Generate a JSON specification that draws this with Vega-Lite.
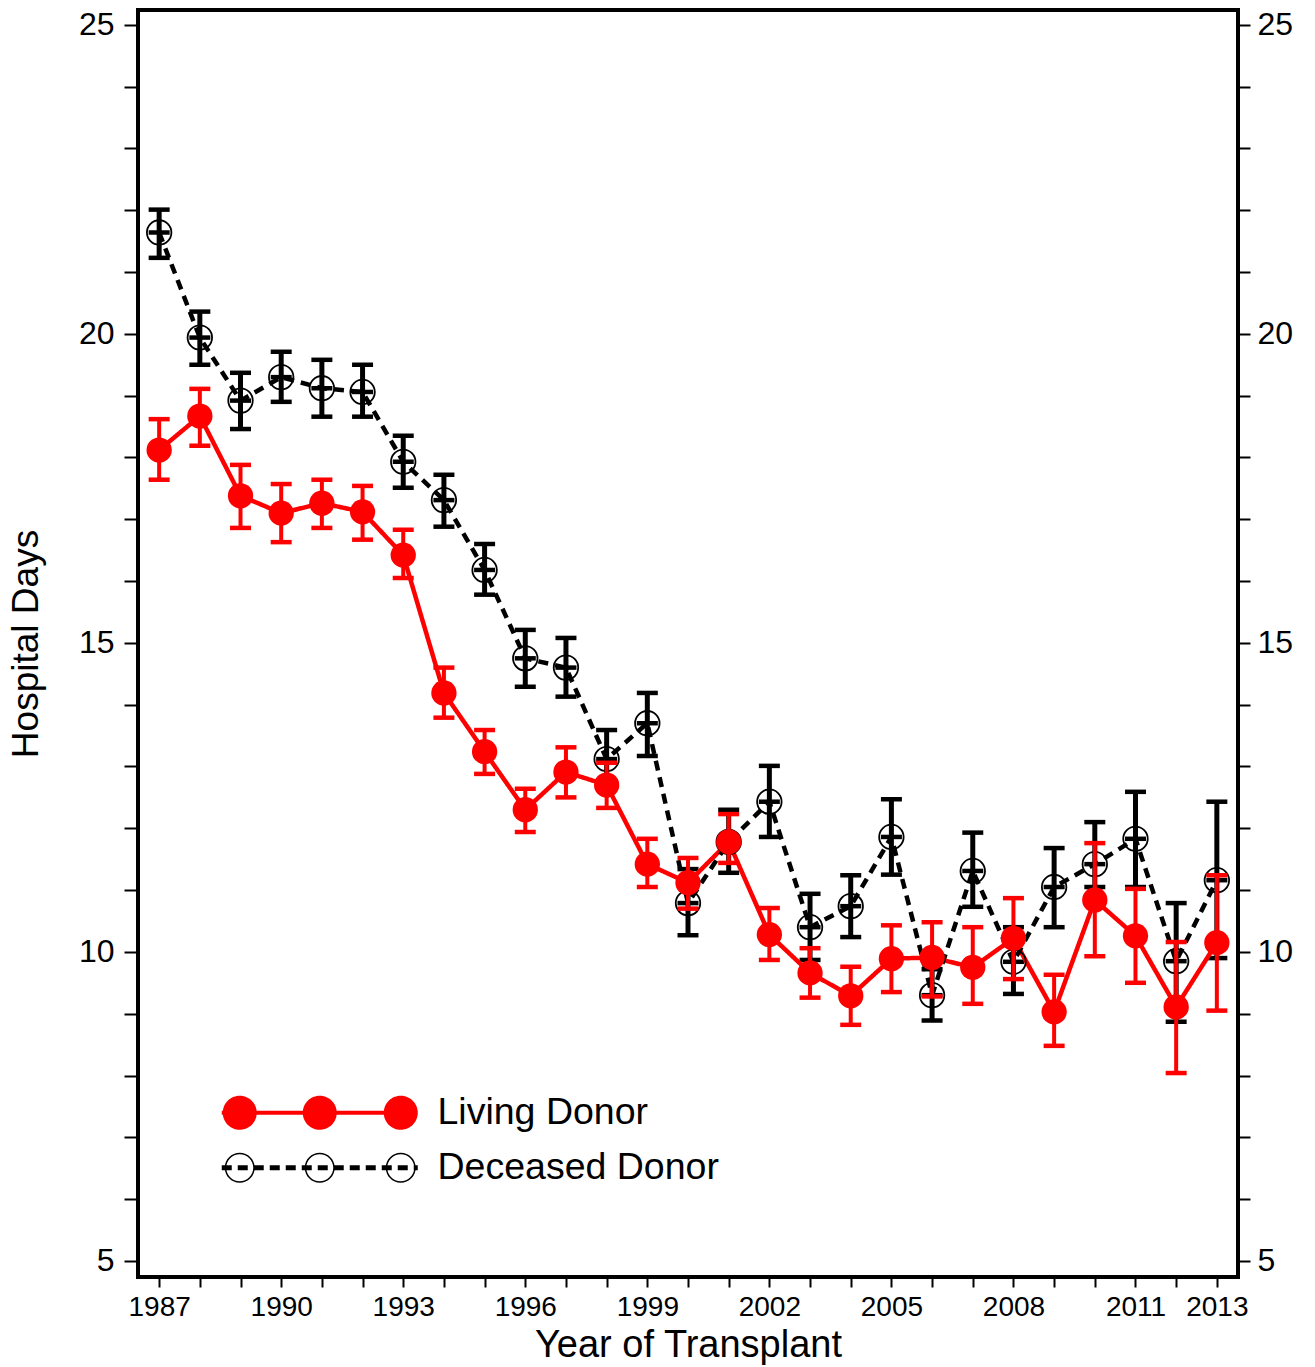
{
  "$schema": "https://vega.github.io/schema/vega-lite/v6.json",
  "autosize": "none",
  "width": 1100,
  "height": 1267,
  "padding": {"left": 138, "top": 10, "right": 77, "bottom": 90},
  "background": "white",
  "config": {
    "view": {"stroke": "black", "strokeWidth": 4},
    "font": "Liberation Sans",
    "axis": {"grid": false, "domain": false, "tickColor": "black", "tickWidth": 2, "labelColor": "black", "titleColor": "black", "titleFontWeight": "normal", "labelFont": "Liberation Sans", "titleFont": "Liberation Sans"}
  },
  "data": {"values": [
    {"year": 1987, "donor": "Living Donor", "mean": 18.12, "lo": 17.64, "hi": 18.62},
    {"year": 1988, "donor": "Living Donor", "mean": 18.67, "lo": 18.19, "hi": 19.11},
    {"year": 1989, "donor": "Living Donor", "mean": 17.38, "lo": 16.86, "hi": 17.88},
    {"year": 1990, "donor": "Living Donor", "mean": 17.10, "lo": 16.63, "hi": 17.57},
    {"year": 1991, "donor": "Living Donor", "mean": 17.26, "lo": 16.86, "hi": 17.64},
    {"year": 1992, "donor": "Living Donor", "mean": 17.12, "lo": 16.67, "hi": 17.54},
    {"year": 1993, "donor": "Living Donor", "mean": 16.42, "lo": 16.05, "hi": 16.83},
    {"year": 1994, "donor": "Living Donor", "mean": 14.19, "lo": 13.79, "hi": 14.60},
    {"year": 1995, "donor": "Living Donor", "mean": 13.24, "lo": 12.88, "hi": 13.59},
    {"year": 1996, "donor": "Living Donor", "mean": 12.30, "lo": 11.94, "hi": 12.64},
    {"year": 1997, "donor": "Living Donor", "mean": 12.91, "lo": 12.50, "hi": 13.31},
    {"year": 1998, "donor": "Living Donor", "mean": 12.70, "lo": 12.33, "hi": 13.06},
    {"year": 1999, "donor": "Living Donor", "mean": 11.42, "lo": 11.05, "hi": 11.83},
    {"year": 2000, "donor": "Living Donor", "mean": 11.12, "lo": 10.70, "hi": 11.52},
    {"year": 2001, "donor": "Living Donor", "mean": 11.78, "lo": 11.44, "hi": 12.23},
    {"year": 2002, "donor": "Living Donor", "mean": 10.28, "lo": 9.87, "hi": 10.71},
    {"year": 2003, "donor": "Living Donor", "mean": 9.66, "lo": 9.26, "hi": 10.06},
    {"year": 2004, "donor": "Living Donor", "mean": 9.29, "lo": 8.82, "hi": 9.76},
    {"year": 2005, "donor": "Living Donor", "mean": 9.89, "lo": 9.35, "hi": 10.43},
    {"year": 2006, "donor": "Living Donor", "mean": 9.91, "lo": 9.28, "hi": 10.48},
    {"year": 2007, "donor": "Living Donor", "mean": 9.75, "lo": 9.16, "hi": 10.40},
    {"year": 2008, "donor": "Living Donor", "mean": 10.22, "lo": 9.56, "hi": 10.87},
    {"year": 2009, "donor": "Living Donor", "mean": 9.03, "lo": 8.48, "hi": 9.63},
    {"year": 2010, "donor": "Living Donor", "mean": 10.84, "lo": 9.93, "hi": 11.76},
    {"year": 2011, "donor": "Living Donor", "mean": 10.26, "lo": 9.50, "hi": 11.02},
    {"year": 2012, "donor": "Living Donor", "mean": 9.11, "lo": 8.04, "hi": 10.16},
    {"year": 2013, "donor": "Living Donor", "mean": 10.15, "lo": 9.05, "hi": 11.24},
    {"year": 1987, "donor": "Deceased Donor", "mean": 21.64, "lo": 21.23, "hi": 22.01},
    {"year": 1988, "donor": "Deceased Donor", "mean": 19.94, "lo": 19.50, "hi": 20.36},
    {"year": 1989, "donor": "Deceased Donor", "mean": 18.92, "lo": 18.46, "hi": 19.37},
    {"year": 1990, "donor": "Deceased Donor", "mean": 19.30, "lo": 18.90, "hi": 19.71},
    {"year": 1991, "donor": "Deceased Donor", "mean": 19.12, "lo": 18.66, "hi": 19.58},
    {"year": 1992, "donor": "Deceased Donor", "mean": 19.06, "lo": 18.66, "hi": 19.50},
    {"year": 1993, "donor": "Deceased Donor", "mean": 17.93, "lo": 17.51, "hi": 18.35},
    {"year": 1994, "donor": "Deceased Donor", "mean": 17.31, "lo": 16.88, "hi": 17.72},
    {"year": 1995, "donor": "Deceased Donor", "mean": 16.18, "lo": 15.78, "hi": 16.60},
    {"year": 1996, "donor": "Deceased Donor", "mean": 14.75, "lo": 14.29, "hi": 15.21},
    {"year": 1997, "donor": "Deceased Donor", "mean": 14.60, "lo": 14.13, "hi": 15.08},
    {"year": 1998, "donor": "Deceased Donor", "mean": 13.12, "lo": 12.66, "hi": 13.59},
    {"year": 1999, "donor": "Deceased Donor", "mean": 13.70, "lo": 13.17, "hi": 14.19},
    {"year": 2000, "donor": "Deceased Donor", "mean": 10.79, "lo": 10.27, "hi": 11.34},
    {"year": 2001, "donor": "Deceased Donor", "mean": 11.78, "lo": 11.28, "hi": 12.30},
    {"year": 2002, "donor": "Deceased Donor", "mean": 12.43, "lo": 11.86, "hi": 13.01},
    {"year": 2003, "donor": "Deceased Donor", "mean": 10.40, "lo": 9.87, "hi": 10.94},
    {"year": 2004, "donor": "Deceased Donor", "mean": 10.74, "lo": 10.24, "hi": 11.24},
    {"year": 2005, "donor": "Deceased Donor", "mean": 11.86, "lo": 11.25, "hi": 12.47},
    {"year": 2006, "donor": "Deceased Donor", "mean": 9.30, "lo": 8.89, "hi": 9.72},
    {"year": 2007, "donor": "Deceased Donor", "mean": 11.31, "lo": 10.73, "hi": 11.93},
    {"year": 2008, "donor": "Deceased Donor", "mean": 9.84, "lo": 9.32, "hi": 10.40},
    {"year": 2009, "donor": "Deceased Donor", "mean": 11.05, "lo": 10.40, "hi": 11.68},
    {"year": 2010, "donor": "Deceased Donor", "mean": 11.42, "lo": 11.05, "hi": 12.10},
    {"year": 2011, "donor": "Deceased Donor", "mean": 11.83, "lo": 11.05, "hi": 12.59},
    {"year": 2012, "donor": "Deceased Donor", "mean": 9.85, "lo": 8.87, "hi": 10.79},
    {"year": 2013, "donor": "Deceased Donor", "mean": 11.16, "lo": 9.90, "hi": 12.43}
  ]},
  "resolve": {"scale": {"y": "shared", "x": "shared"}, "axis": {"y": "independent"}},
  "layer": [
    {
      "transform": [{"filter": "datum.donor === 'Deceased Donor'"}],
      "mark": {"type": "rule", "color": "black", "strokeWidth": 5},
      "encoding": {
        "x": {"field": "year", "type": "quantitative", "scale": {"domain": [1986.48, 2013.52], "nice": false, "zero": false},
          "axis": {"values": [1987,1988,1989,1990,1991,1992,1993,1994,1995,1996,1997,1998,1999,2000,2001,2002,2003,2004,2005,2006,2007,2008,2009,2010,2011,2012,2013],
            "labelExpr": "((datum.value - 1987) % 3 === 0 || datum.value === 2013) ? format(datum.value, 'd') : ''",
            "tickSize": 10, "labelFontSize": 28, "labelPadding": 6, "labelFlush": false, "labelOverlap": false,
            "title": "Year of Transplant", "titleFontSize": 38, "titlePadding": 5}},
        "y": {"field": "lo", "type": "quantitative", "scale": {"domain": [4.74, 25.24], "nice": false, "zero": false},
          "axis": {"orient": "left", "values": [5,6,7,8,9,10,11,12,13,14,15,16,17,18,19,20,21,22,23,24,25],
            "labelExpr": "datum.value % 5 === 0 ? datum.label : ''", "tickSize": 14, "labelFontSize": 32, "labelPadding": 10, "labelFlush": false, "labelOverlap": false,
            "title": "Hospital Days", "titleFontSize": 37, "titlePadding": 33}},
        "y2": {"field": "hi"}
      }
    },
    {
      "transform": [{"filter": "datum.donor === 'Deceased Donor'"}, {"fold": ["lo", "hi", "mean"], "as": ["stat", "val"]}],
      "mark": {"type": "tick", "orient": "horizontal", "color": "black", "size": 21, "thickness": 4.5, "opacity": 1},
      "encoding": {
        "x": {"field": "year", "type": "quantitative"},
        "y": {"field": "val", "type": "quantitative", "axis": {"orient": "right", "values": [5,6,7,8,9,10,11,12,13,14,15,16,17,18,19,20,21,22,23,24,25],
            "labelExpr": "datum.value % 5 === 0 ? datum.label : ''", "tickSize": 12, "labelFontSize": 32, "labelPadding": 7, "labelFlush": false, "labelOverlap": false, "title": null}}
      }
    },
    {
      "mark": {"type": "line", "strokeWidth": 4.5},
      "encoding": {
        "x": {"field": "year", "type": "quantitative"},
        "y": {"field": "mean", "type": "quantitative", "axis": null},
        "color": {"field": "donor", "type": "nominal", "scale": {"domain": ["Living Donor", "Deceased Donor"], "range": ["#ff0000", "#000000"]},
          "legend": {"orient": "none", "legendX": 163, "legendY": 1084, "title": null, "symbolSize": 4, "labelOffset": 99, "labelFontSize": 37.5, "labelLimit": 0, "labelColor": "black", "labelFont": "Liberation Sans", "rowPadding": 12, "padding": 0,
            "encode": {"symbols": {"update": {
              "shape": {"signal": "datum.value === 'Living Donor' ? 'M-98,0L98,0M-95,0a15,15 0 1,1 30,0a15,15 0 1,1 -30,0ZM-15,0a15,15 0 1,1 30,0a15,15 0 1,1 -30,0ZM66,0a15,15 0 1,1 30,0a15,15 0 1,1 -30,0Z' : 'M-98,-2.5h10v5h-10ZM-82,-2.5h10v5h-10ZM-66,-2.5h10v5h-10ZM-50,-2.5h10v5h-10ZM-34,-2.5h10v5h-10ZM-18,-2.5h10v5h-10ZM-2,-2.5h10v5h-10ZM14,-2.5h10v5h-10ZM30,-2.5h10v5h-10ZM46,-2.5h10v5h-10ZM62,-2.5h10v5h-10ZM78,-2.5h10v5h-10ZM94,-2.5h4v5h-4ZM-95,0a15,15 0 1,1 30,0a15,15 0 1,1 -30,0ZM-93.5,0a13.5,13.5 0 1,0 27,0a13.5,13.5 0 1,0 -27,0ZM-15,0a15,15 0 1,1 30,0a15,15 0 1,1 -30,0ZM-13.5,0a13.5,13.5 0 1,0 27,0a13.5,13.5 0 1,0 -27,0ZM66,0a15,15 0 1,1 30,0a15,15 0 1,1 -30,0ZM67.5,0a13.5,13.5 0 1,0 27,0a13.5,13.5 0 1,0 -27,0Z'"},
              "size": {"value": 4},
              "fill": {"signal": "datum.value === 'Living Donor' ? '#ff0000' : '#000000'"},
              "stroke": {"signal": "datum.value === 'Living Donor' ? '#ff0000' : '#000000'"},
              "strokeWidth": {"signal": "datum.value === 'Living Donor' ? 4 : 0"},
              "strokeDash": {"value": [1, 0]},
              "opacity": {"value": 1},
              "fillOpacity": {"value": 1},
              "strokeOpacity": {"value": 1}
            }}}}},
        "strokeDash": {"field": "donor", "type": "nominal", "scale": {"domain": ["Living Donor", "Deceased Donor"], "range": [[1, 0], [10, 7]]}, "legend": null}
      }
    },
    {
      "transform": [{"filter": "datum.donor === 'Deceased Donor'"}],
      "mark": {"type": "point", "shape": "circle", "filled": false, "stroke": "black", "strokeWidth": 1.8, "size": 600, "opacity": 1},
      "encoding": {
        "x": {"field": "year", "type": "quantitative"},
        "y": {"field": "mean", "type": "quantitative", "axis": null}
      }
    },
    {
      "transform": [{"filter": "datum.donor === 'Living Donor'"}],
      "mark": {"type": "rule", "color": "#ff0000", "strokeWidth": 4},
      "encoding": {
        "x": {"field": "year", "type": "quantitative"},
        "y": {"field": "lo", "type": "quantitative", "axis": null},
        "y2": {"field": "hi"}
      }
    },
    {
      "transform": [{"filter": "datum.donor === 'Living Donor'"}, {"fold": ["lo", "hi"], "as": ["stat", "val"]}],
      "mark": {"type": "tick", "orient": "horizontal", "color": "#ff0000", "size": 21, "thickness": 4.5, "opacity": 1},
      "encoding": {
        "x": {"field": "year", "type": "quantitative"},
        "y": {"field": "val", "type": "quantitative", "axis": null}
      }
    },
    {
      "transform": [{"filter": "datum.donor === 'Living Donor'"}],
      "mark": {"type": "point", "shape": "circle", "filled": true, "color": "#ff0000", "size": 640, "opacity": 1},
      "encoding": {
        "x": {"field": "year", "type": "quantitative"},
        "y": {"field": "mean", "type": "quantitative", "axis": null}
      }
    }
  ]
}
